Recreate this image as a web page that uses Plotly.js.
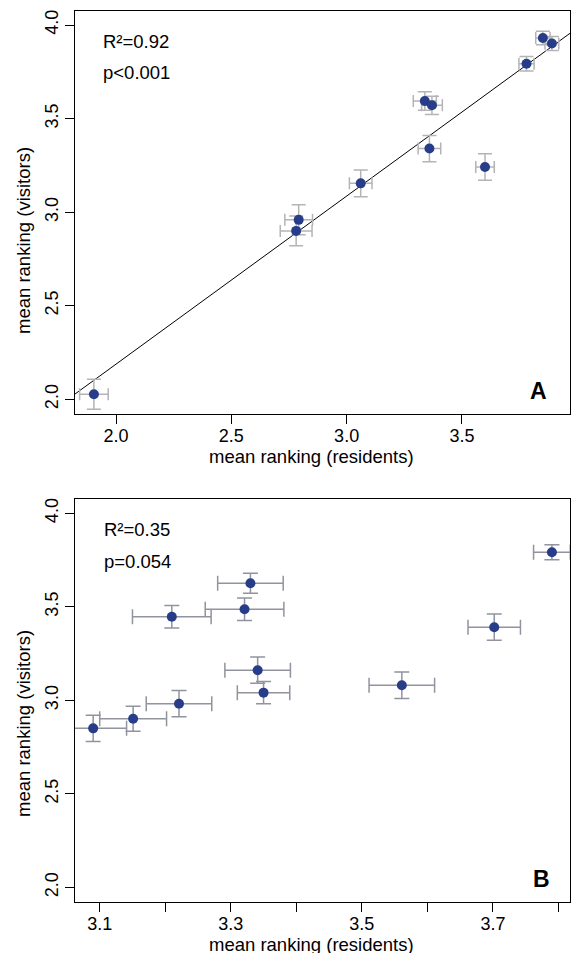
<!DOCTYPE html>
<html>
<head>
<meta charset="utf-8">
<script src="https://cdn.plot.ly/plotly-3.0.1.min.js"></script>
<style>html,body{margin:0;padding:0;background:#fff;}</style>
</head>
<body>
<div id="chart" style="width:572px;height:953px;"></div>
<script>
// ---- Panel A data ----
var residentsA    = [1.904, 2.781, 2.792, 3.061, 3.339, 3.370, 3.359, 3.600, 3.780, 3.851, 3.890];
var visitorsA     = [2.027, 2.900, 2.959, 3.154, 3.594, 3.571, 3.340, 3.241, 3.793, 3.931, 3.901];
var residentsErrA = [0.062, 0.069, 0.060, 0.049, 0.050, 0.045, 0.049, 0.040, 0.033, 0.031, 0.030];
var visitorsErrA  = [0.080, 0.080, 0.080, 0.071, 0.050, 0.049, 0.070, 0.071, 0.039, 0.036, 0.037];
var fitSlopeA = 0.898;
var fitInterceptA = 0.392;

// ---- Panel B data ----
var residentsB    = [3.090, 3.151, 3.221, 3.210, 3.321, 3.330, 3.341, 3.350, 3.561, 3.702, 3.790];
var visitorsB     = [2.850, 2.901, 2.982, 3.447, 3.487, 3.626, 3.161, 3.041, 3.081, 3.391, 3.792];
var residentsErrB = [0.051, 0.051, 0.050, 0.060, 0.060, 0.050, 0.050, 0.040, 0.050, 0.040, 0.028];
var visitorsErrB  = [0.070, 0.067, 0.070, 0.060, 0.060, 0.053, 0.070, 0.060, 0.071, 0.070, 0.040];

// ---- ticks & labels ----
var yTicks = [2.0, 2.5, 3.0, 3.5, 4.0];
var yTickText = ['2.0', '2.5', '3.0', '3.5', '4.0'];
var xTicksA = [2.0, 2.5, 3.0, 3.5];
var xTickTextA = ['2.0', '2.5', '3.0', '3.5'];
var xTicksB = [3.1, 3.2, 3.3, 3.4, 3.5, 3.6, 3.7, 3.8];
var xTickTextB = ['3.1', '', '3.3', '', '3.5', '', '3.7', ''];
var statsA = ['R²=0.92', 'p<0.001'];
var statsB = ['R²=0.35', 'p=0.054'];
var xTitle = 'mean ranking (residents)';
var yTitle = 'mean ranking (visitors)';

var xRangeA = [1.822, 3.9686];
var xRangeB = [3.0623, 3.8176];
var yRange = [1.9215, 4.0765];

var FONT = 'Liberation Sans, Arial, Helvetica, sans-serif';
var dotColor = 'rgb(40,61,137)';

var fitX = xRangeA.slice();
var fitY = fitX.map(function (x) { return fitInterceptA + fitSlopeA * x; });

var traces = [
  {
    x: fitX, y: fitY, xaxis: 'x', yaxis: 'y', mode: 'lines',
    line: {color: '#000', width: 1}, hoverinfo: 'skip', showlegend: false
  },
  {
    x: residentsA, y: visitorsA, xaxis: 'x', yaxis: 'y', mode: 'markers', type: 'scatter',
    marker: {color: dotColor, size: 10},
    error_x: {type: 'data', array: residentsErrA, visible: true, color: 'rgb(180,180,184)', thickness: 1.5, width: 6},
    error_y: {type: 'data', array: visitorsErrA, visible: true, color: 'rgb(180,180,184)', thickness: 1.5, width: 7},
    showlegend: false
  },
  {
    x: residentsB, y: visitorsB, xaxis: 'x2', yaxis: 'y2', mode: 'markers', type: 'scatter',
    marker: {color: dotColor, size: 10},
    error_x: {type: 'data', array: residentsErrB, visible: true, color: 'rgb(145,148,158)', thickness: 1.5, width: 7.5},
    error_y: {type: 'data', array: visitorsErrB, visible: true, color: 'rgb(145,148,158)', thickness: 1.5, width: 7.5},
    showlegend: false
  }
];

function axisBase() {
  return {
    showline: true, mirror: true, linecolor: '#000', linewidth: 1,
    ticks: 'outside', ticklen: 9, tickwidth: 1, tickcolor: '#000',
    showgrid: false, zeroline: false, automargin: false,
    tickfont: {family: FONT, size: 18, color: '#000'}
  };
}

var xa = axisBase(); xa.range = xRangeA; xa.tickvals = xTicksA; xa.ticktext = xTickTextA; xa.anchor = 'y'; xa.domain = [0, 1];
xa.ticklabelstandoff = -4;
var ya = axisBase(); ya.range = yRange; ya.tickvals = yTicks; ya.ticktext = yTickText; ya.anchor = 'x'; ya.tickangle = -90;
ya.domain = [1 - 414 / 953, 1 - 10.7 / 953];
var xb = axisBase(); xb.range = xRangeB; xb.tickvals = xTicksB; xb.ticktext = xTickTextB; xb.anchor = 'y2'; xb.domain = [0, 1];
xb.ticklabelstandoff = -4;
var yb = axisBase(); yb.range = yRange; yb.tickvals = yTicks; yb.ticktext = yTickText; yb.anchor = 'x2'; yb.tickangle = -90;
yb.domain = [1 - 902 / 953, 1 - 499 / 953];

var L = 75, W = 495, H = 953;
function px(x) { return (x - L) / W; }
function py(y) { return 1 - y / H; }
function txt(text, x, y, opts) {
  var a = {text: text, xref: 'paper', yref: 'paper', x: px(x), y: py(y), showarrow: false,
    xanchor: 'center', yanchor: 'middle', font: {family: FONT, size: 18.5, color: '#000'}};
  for (var k in opts) a[k] = opts[k];
  return a;
}

var annotations = [
  txt(statsA[0], 101, 41.7, {xanchor: 'left'}),
  txt(statsA[1], 101, 73, {xanchor: 'left'}),
  txt('<b>A</b>', 538.7, 391, {font: {family: FONT, size: 23, color: '#000'}}),
  txt(xTitle, 311, 456, {}),
  txt(yTitle, 23, 241, {textangle: -90}),
  txt(statsB[0], 102, 529.3, {xanchor: 'left'}),
  txt(statsB[1], 102, 561, {xanchor: 'left'}),
  txt('<b>B</b>', 541.8, 879, {font: {family: FONT, size: 23, color: '#000'}}),
  txt(xTitle, 311, 944, {}),
  txt(yTitle, 23, 724, {textangle: -90})
];

var layout = {
  width: 572, height: 953,
  margin: {l: 75, r: 2, t: 0, b: 0},
  paper_bgcolor: '#fff', plot_bgcolor: '#fff',
  font: {family: FONT, color: '#000'},
  showlegend: false,
  xaxis: xa, yaxis: ya, xaxis2: xb, yaxis2: yb,
  annotations: annotations
};

Plotly.newPlot('chart', traces, layout, {displayModeBar: false, staticPlot: true});
</script>
</body>
</html>
